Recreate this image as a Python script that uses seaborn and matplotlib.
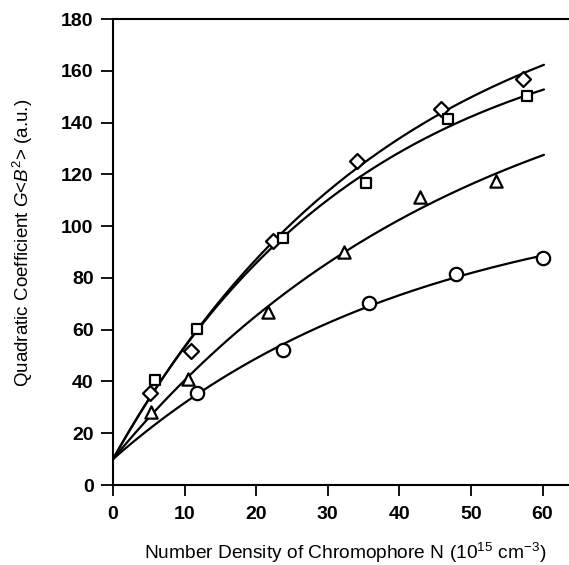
import numpy as np
import pandas as pd
import matplotlib
matplotlib.use("Agg")
import matplotlib.pyplot as plt
import seaborn as sns

# ---- data ----
diamond_x = [5.2, 10.9, 22.4, 34.1, 45.8, 57.3]
diamond_y = [35.4, 51.9, 94.2, 125.3, 145.2, 156.7]
square_x = [5.9, 11.8, 23.8, 35.3, 46.8, 57.8]
square_y = [40.6, 60.1, 95.5, 116.5, 141.2, 150.4]
triangle_x = [5.3, 10.5, 21.7, 32.3, 42.9, 53.5]
triangle_y = [28.3, 40.8, 66.7, 90.1, 111.4, 117.4]
circle_x = [11.8, 23.7, 35.7, 47.9, 60.05]
circle_y = [35.7, 52.1, 70.4, 81.4, 87.6]
fit_intercept = 10.0   # all fitted curves start at (0, 10)
fit_x_end = 60.2

x_ticks = [0, 10, 20, 30, 40, 50, 60]
y_ticks = [0, 20, 40, 60, 80, 100, 120, 140, 160, 180]
x_label = r"Number Density of Chromophore N (10$^{15}$ cm$^{-3}$)"
y_label = r"Quadratic Coefficient $G$<$B^2$> (a.u.)"

series = {
    "diamond": (diamond_x, diamond_y),
    "square": (square_x, square_y),
    "triangle": (triangle_x, triangle_y),
    "circle": (circle_x, circle_y),
}
marker_of = {"diamond": "D", "square": "s", "triangle": "^", "circle": "o"}
size_of = {"diamond": 58, "square": 62, "triangle": 78, "circle": 92}

sns.set_theme(style="ticks")
plt.rcParams["font.family"] = ["Liberation Sans", "DejaVu Sans"]
plt.rcParams["mathtext.fontset"] = "custom"
plt.rcParams["mathtext.rm"] = "Liberation Sans"
plt.rcParams["mathtext.it"] = "Liberation Sans:italic"
plt.rcParams["mathtext.bf"] = "Liberation Sans:bold"
for key in ["text.color", "axes.labelcolor", "xtick.color", "ytick.color", "axes.edgecolor"]:
    plt.rcParams[key] = "black"

fig = plt.figure(figsize=(5.69, 5.65), dpi=100)
ax = fig.add_axes([113 / 569, 80 / 565, (569 - 113) / 569, 466 / 565])

# points table
pts = pd.concat(
    [pd.DataFrame({"N": x, "G": y, "series": k}) for k, (x, y) in series.items()],
    ignore_index=True,
)

# fitted curves: saturating fit y = y0 + A (1 - exp(-x / b)), least squares
curves = []
b_grid = np.linspace(5, 200, 3901)
for k, (x, y) in series.items():
    xa = np.asarray(x)
    ya = np.asarray(y) - fit_intercept
    best = None
    for b in b_grid:
        f = 1 - np.exp(-xa / b)
        A = (f @ ya) / (f @ f)
        err = np.sum((ya - A * f) ** 2)
        if best is None or err < best[0]:
            best = (err, A, b)
    _, A, b = best
    xs = np.linspace(0, fit_x_end, 200)
    curves.append(pd.DataFrame({"N": xs, "G": fit_intercept + A * (1 - np.exp(-xs / b)), "series": k}))
curves = pd.concat(curves, ignore_index=True)

sns.lineplot(data=curves, x="N", y="G", units="series", estimator=None,
             color="black", linewidth=1.6, ax=ax, zorder=2, legend=False)

for k in series:
    sub = pts[pts["series"] == k]
    sns.scatterplot(data=sub, x="N", y="G", marker=marker_of[k], s=size_of[k],
                    color="white", edgecolor="black", linewidth=1.6,
                    ax=ax, zorder=3, legend=False)

ax.set_xlim(0, 63.7)
ax.set_ylim(0, 180)
ax.set_xticks(x_ticks)
ax.set_yticks(y_ticks)
ax.set_xticklabels([str(t) for t in x_ticks], fontsize=14, fontweight="bold", color="black")
ax.set_yticklabels([str(t) for t in y_ticks], fontsize=14, fontweight="bold", color="black")
ax.tick_params(axis="y", direction="out", length=9, width=1.3, pad=5, color="black")
ax.tick_params(axis="x", direction="out", length=8, width=1.3, pad=7, color="black")

for side in ["left", "bottom", "top"]:
    ax.spines[side].set_linewidth(1.5)
    ax.spines[side].set_color("black")
ax.spines["right"].set_visible(False)

ax.set_xlabel(x_label, fontsize=13.8, color="black")
ax.set_ylabel(y_label, fontsize=13.5, color="black")
ax.xaxis.set_label_coords(0.509, -0.159)
ax.xaxis.label.set_va("baseline")
ax.yaxis.set_label_coords(-0.172, 0.52)

fig.savefig("out.png", dpi=100)
